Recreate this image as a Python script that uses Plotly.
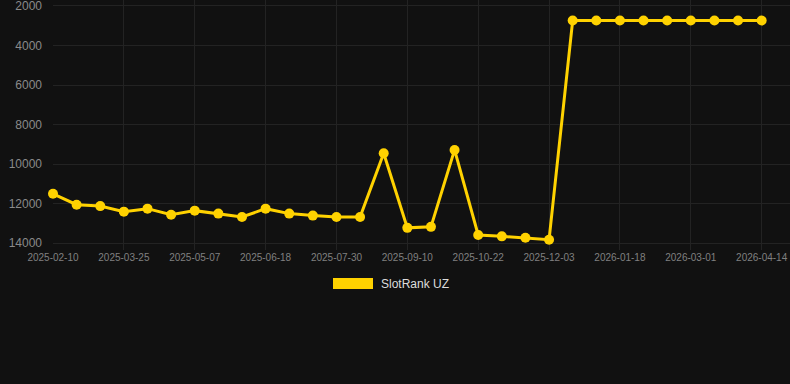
import plotly.graph_objects as go

dates = ["2025-02-10", "2025-02-24", "2025-03-10", "2025-03-25", "2025-04-08", "2025-04-22",
         "2025-05-07", "2025-05-21", "2025-06-04", "2025-06-18", "2025-07-02", "2025-07-16",
         "2025-07-30", "2025-08-13", "2025-08-27", "2025-09-10", "2025-09-24", "2025-10-08",
         "2025-10-22", "2025-11-05", "2025-11-19", "2025-12-03", "2025-12-18", "2026-01-02",
         "2026-01-18", "2026-02-01", "2026-02-15", "2026-03-01", "2026-03-16", "2026-03-30",
         "2026-04-14"]
rank = [11500, 12050, 12120, 12400, 12250, 12560, 12350, 12500, 12670, 12250, 12500, 12600,
        12670, 12670, 9450, 13220, 13170, 9280, 13580, 13650, 13720, 13820,
        2740, 2740, 2740, 2740, 2740, 2740, 2740, 2740, 2740]
tick_dates = dates[::3]
y_ticks = [2000, 4000, 6000, 8000, 10000, 12000, 14000]
y_tick_text = [str(v) for v in y_ticks]
series_name = "SlotRank UZ"

color = "#FFD200"
bg = "#111111"
grid = "#232323"
font = "Arial, Liberation Sans, sans-serif"

fig = go.Figure()
fig.add_trace(go.Scatter(
    x=dates, y=rank, mode="lines+markers", name=series_name,
    line=dict(color=color, width=3),
    marker=dict(color=color, size=10),
    cliponaxis=False, showlegend=False,
))

fig.update_layout(
    width=790, height=384,
    paper_bgcolor=bg, plot_bgcolor=bg,
    margin=dict(l=53, r=0, t=0, b=134),
    font=dict(family=font, color="#888888"),
    xaxis=dict(type="category", range=[0, 31.2], tickvals=tick_dates, ticktext=tick_dates,
               showgrid=True, gridcolor=grid, gridwidth=1, zeroline=False, showline=False,
               tickfont=dict(size=10, color="#808080"), ticks="", ticklen=0,
               ticklabeloverflow="allow"),
    yaxis=dict(range=[14340, 1700], tickmode="array", tickvals=y_ticks, ticktext=y_tick_text,
               showgrid=True, gridcolor=grid, gridwidth=1, zeroline=False, showline=False,
               tickfont=dict(size=12, color="#8a8a8a"), ticks="", ticklabelstandoff=10,
               automargin=False, ticklabeloverflow="allow"),
    shapes=[dict(type="rect", xref="paper", yref="paper",
                 x0=(333 - 53) / 737, x1=(373 - 53) / 737,
                 y0=(250 - 289) / 250, y1=(250 - 278) / 250,
                 fillcolor=color, line=dict(width=0))],
    annotations=[dict(text=series_name, xref="paper", yref="paper",
                      x=(379 - 53) / 737, y=(250 - 284) / 250, xanchor="left", yanchor="middle",
                      showarrow=False, font=dict(size=12, color="#dddddd", family=font))],
)

fig.write_html("out.html")
